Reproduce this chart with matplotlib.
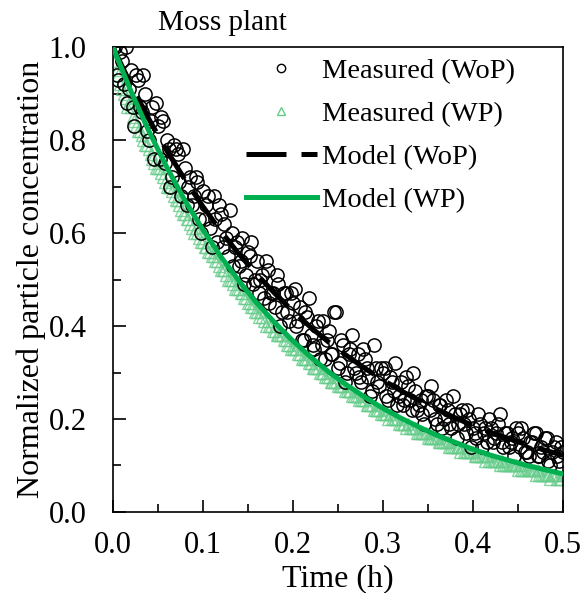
import numpy as np
import matplotlib
matplotlib.use('Agg')
import matplotlib.pyplot as plt
from matplotlib.lines import Line2D

plt.rcParams['font.family'] = ['Liberation Serif', 'DejaVu Serif']

# model curves (every 0.02 h)
model_t = [0.00, 0.02, 0.04, 0.06, 0.08, 0.10, 0.12, 0.14, 0.16, 0.18, 0.20, 0.22, 0.24,
           0.26, 0.28, 0.30, 0.32, 0.34, 0.36, 0.38, 0.40, 0.42, 0.44, 0.46, 0.48, 0.50]
model_wop = [1.000, 0.919, 0.845, 0.777, 0.715, 0.657, 0.604, 0.555, 0.511, 0.470, 0.432, 0.397, 0.365,
             0.336, 0.309, 0.284, 0.261, 0.240, 0.221, 0.203, 0.186, 0.171, 0.158, 0.145, 0.133, 0.122]
model_wp = [1.000, 0.905, 0.819, 0.741, 0.670, 0.607, 0.549, 0.497, 0.449, 0.407, 0.368, 0.333, 0.301,
            0.273, 0.247, 0.223, 0.202, 0.183, 0.165, 0.150, 0.135, 0.122, 0.111, 0.100, 0.091, 0.082]

# measured values, first pass of samples (0 to 0.5 h, every 0.004 h)
meas_wop = [1.00, 0.94, 0.99, 0.92, 0.88, 0.95, 0.83, 0.93, 0.86, 0.90,
            0.80, 0.87, 0.88, 0.76, 0.84, 0.80, 0.70, 0.79, 0.77, 0.68,
            0.74, 0.70, 0.66, 0.72, 0.63, 0.69, 0.66, 0.61, 0.68, 0.58,
            0.64, 0.62, 0.55, 0.60, 0.57, 0.53, 0.59, 0.51, 0.55, 0.49,
            0.54, 0.50, 0.46, 0.52, 0.47, 0.44, 0.49, 0.43, 0.47, 0.41,
            0.45, 0.40, 0.44, 0.37, 0.42, 0.38, 0.35, 0.41, 0.36, 0.33,
            0.39, 0.34, 0.43, 0.32, 0.36, 0.30, 0.35, 0.31, 0.34, 0.28,
            0.33, 0.29, 0.26, 0.31, 0.27, 0.30, 0.25, 0.29, 0.26, 0.23,
            0.28, 0.24, 0.27, 0.22, 0.26, 0.23, 0.21, 0.25, 0.22, 0.24,
            0.19, 0.23, 0.20, 0.22, 0.18, 0.21, 0.19, 0.22, 0.17, 0.20,
            0.18, 0.16, 0.19, 0.17, 0.15, 0.18, 0.16, 0.19, 0.15, 0.17,
            0.14, 0.16, 0.18, 0.14, 0.16, 0.13, 0.15, 0.17, 0.12, 0.14,
            0.16, 0.11, 0.13, 0.15, 0.11, 0.13]
meas_wp = [0.99, 0.95, 0.92, 0.90, 0.87, 0.87, 0.84, 0.82, 0.81, 0.79,
           0.78, 0.76, 0.74, 0.74, 0.72, 0.70, 0.70, 0.68, 0.67, 0.65,
           0.64, 0.63, 0.61, 0.61, 0.59, 0.58, 0.57, 0.56, 0.55, 0.54,
           0.52, 0.52, 0.50, 0.50, 0.48, 0.48, 0.47, 0.46, 0.45, 0.44,
           0.43, 0.43, 0.41, 0.41, 0.40, 0.39, 0.38, 0.38, 0.37, 0.36,
           0.35, 0.35, 0.34, 0.33, 0.33, 0.32, 0.31, 0.31, 0.30, 0.29,
           0.29, 0.28, 0.28, 0.27, 0.27, 0.26, 0.26, 0.25, 0.25, 0.24,
           0.24, 0.23, 0.23, 0.22, 0.22, 0.21, 0.21, 0.21, 0.20, 0.20,
           0.19, 0.19, 0.19, 0.18, 0.18, 0.17, 0.17, 0.17, 0.16, 0.16,
           0.16, 0.15, 0.15, 0.15, 0.14, 0.14, 0.14, 0.14, 0.13, 0.13,
           0.13, 0.12, 0.12, 0.12, 0.12, 0.11, 0.11, 0.11, 0.11, 0.10,
           0.10, 0.10, 0.10, 0.10, 0.09, 0.09, 0.09, 0.09, 0.09, 0.08,
           0.08, 0.08, 0.08, 0.08, 0.07, 0.08]
# second pass, in between (0.002 to 0.498 h)
meas_wop_2 = [1.00, 0.93, 0.97, 1.00, 0.91, 0.87, 0.94, 0.87, 0.94, 0.82,
              0.84, 0.76, 0.83, 0.85, 0.75, 0.78, 0.72, 0.78, 0.71, 0.78,
              0.66, 0.72, 0.68, 0.71, 0.60, 0.63, 0.68, 0.57, 0.63, 0.66,
              0.57, 0.59, 0.65, 0.53, 0.58, 0.54, 0.49, 0.56, 0.58, 0.50,
              0.47, 0.51, 0.54, 0.45, 0.47, 0.51, 0.40, 0.47, 0.43, 0.47,
              0.48, 0.41, 0.37, 0.43, 0.46, 0.36, 0.40, 0.33, 0.41, 0.37,
              0.34, 0.43, 0.31, 0.37, 0.28, 0.34, 0.38, 0.30, 0.29, 0.35,
              0.31, 0.25, 0.36, 0.28, 0.31, 0.31, 0.24, 0.28, 0.32, 0.25,
              0.23, 0.29, 0.24, 0.30, 0.22, 0.24, 0.19, 0.25, 0.27, 0.20,
              0.23, 0.18, 0.24, 0.19, 0.25, 0.16, 0.21, 0.19, 0.22, 0.14,
              0.17, 0.21, 0.14, 0.18, 0.20, 0.15, 0.17, 0.21, 0.14, 0.17,
              0.15, 0.12, 0.17, 0.18, 0.13, 0.12, 0.15, 0.17, 0.12, 0.13,
              0.16, 0.10, 0.14, 0.12, 0.14]
meas_wp_2 = [0.97, 0.94, 0.91, 0.89, 0.88, 0.85, 0.83, 0.82, 0.80, 0.79,
             0.77, 0.75, 0.74, 0.73, 0.71, 0.70, 0.69, 0.67, 0.66, 0.64,
             0.63, 0.62, 0.60, 0.60, 0.58, 0.57, 0.56, 0.55, 0.54, 0.53,
             0.52, 0.51, 0.50, 0.49, 0.48, 0.47, 0.46, 0.45, 0.44, 0.43,
             0.42, 0.42, 0.40, 0.40, 0.39, 0.38, 0.38, 0.37, 0.36, 0.35,
             0.35, 0.34, 0.33, 0.33, 0.32, 0.31, 0.31, 0.30, 0.30, 0.29,
             0.28, 0.28, 0.27, 0.27, 0.26, 0.26, 0.25, 0.25, 0.24, 0.24,
             0.23, 0.23, 0.22, 0.22, 0.21, 0.21, 0.20, 0.20, 0.20, 0.19,
             0.19, 0.18, 0.18, 0.18, 0.17, 0.17, 0.17, 0.16, 0.16, 0.16,
             0.15, 0.15, 0.15, 0.14, 0.14, 0.14, 0.13, 0.13, 0.13, 0.13,
             0.12, 0.12, 0.12, 0.11, 0.11, 0.11, 0.11, 0.10, 0.10, 0.10,
             0.10, 0.10, 0.09, 0.09, 0.09, 0.09, 0.09, 0.08, 0.08, 0.08,
             0.08, 0.07, 0.08, 0.07, 0.07]
meas_t = np.linspace(0, 0.5, len(meas_wop))
meas_t_2 = np.linspace(0.002, 0.498, len(meas_wop_2))

green = '#00b050'
light_green = '#66cc8a'

fig = plt.figure(figsize=(5.85, 5.93), dpi=100)
ax = fig.add_axes([0.193, 0.1366, 0.769, 0.7841])

for tt, yy in [(meas_t, meas_wp), (meas_t_2, meas_wp_2)]:
    ax.plot(tt, yy, linestyle='none', marker='^', ms=8, mfc='none',
            mec=light_green, mew=1.0, alpha=0.8, zorder=2)
for tt, yy in [(meas_t, meas_wop), (meas_t_2, meas_wop_2)]:
    ax.plot(tt, yy, linestyle='none', marker='o', ms=9.5, mfc='none',
            mec='black', mew=1.1, zorder=3)
ax.plot(model_t, model_wop, color='black', lw=3.6, dashes=(8, 3), zorder=4)
ax.plot(model_t, model_wp, color=green, lw=3.6, zorder=5)

ax.set_xlim(0, 0.5)
ax.set_ylim(0, 1.0)
ax.set_xticks([0.0, 0.1, 0.2, 0.3, 0.4, 0.5])
ax.set_xticks([0.05, 0.15, 0.25, 0.35, 0.45], minor=True)
ax.set_yticks([0.0, 0.2, 0.4, 0.6, 0.8, 1.0])
ax.set_yticks([0.1, 0.3, 0.5, 0.7, 0.9], minor=True)
ax.set_xticklabels(['0.0', '0.1', '0.2', '0.3', '0.4', '0.5'])
ax.set_yticklabels(['0.0', '0.2', '0.4', '0.6', '0.8', '1.0'])
ax.tick_params(which='major', direction='in', length=9, width=1.2, labelsize=22)
ax.tick_params(which='minor', direction='in', length=6, width=1.2)
ax.tick_params(axis='x', which='major', pad=14)
ax.tick_params(axis='y', which='major', pad=19)
for s in ax.spines.values():
    s.set_linewidth(1.2)

ax.set_xlabel('Time (h)', fontsize=23, labelpad=3)
ax.set_ylabel('Normalized particle concentration', fontsize=23, labelpad=2)
fig.text(0.27, 0.962, 'Moss plant', fontsize=21, ha='left', va='center')

handles = [
    Line2D([], [], linestyle='none', marker='o', ms=6, mfc='none', mec='black', mew=1.0),
    Line2D([], [], linestyle='none', marker='^', ms=6, mfc='none', mec=light_green, mew=1.0),
    Line2D([], [], color='black', lw=3.6, dashes=(8, 3)),
    Line2D([], [], color=green, lw=3.6),
]
labels = ['Measured (WoP)', 'Measured (WP)', 'Model (WoP)', 'Model (WP)']
ax.legend(handles, labels, loc='upper left', bbox_to_anchor=(0.245, 1.026), frameon=False,
          fontsize=20.5, handlelength=2.5, handletextpad=0.18, labelspacing=0.6, borderpad=0.3)

fig.savefig('out.png', dpi=100)
